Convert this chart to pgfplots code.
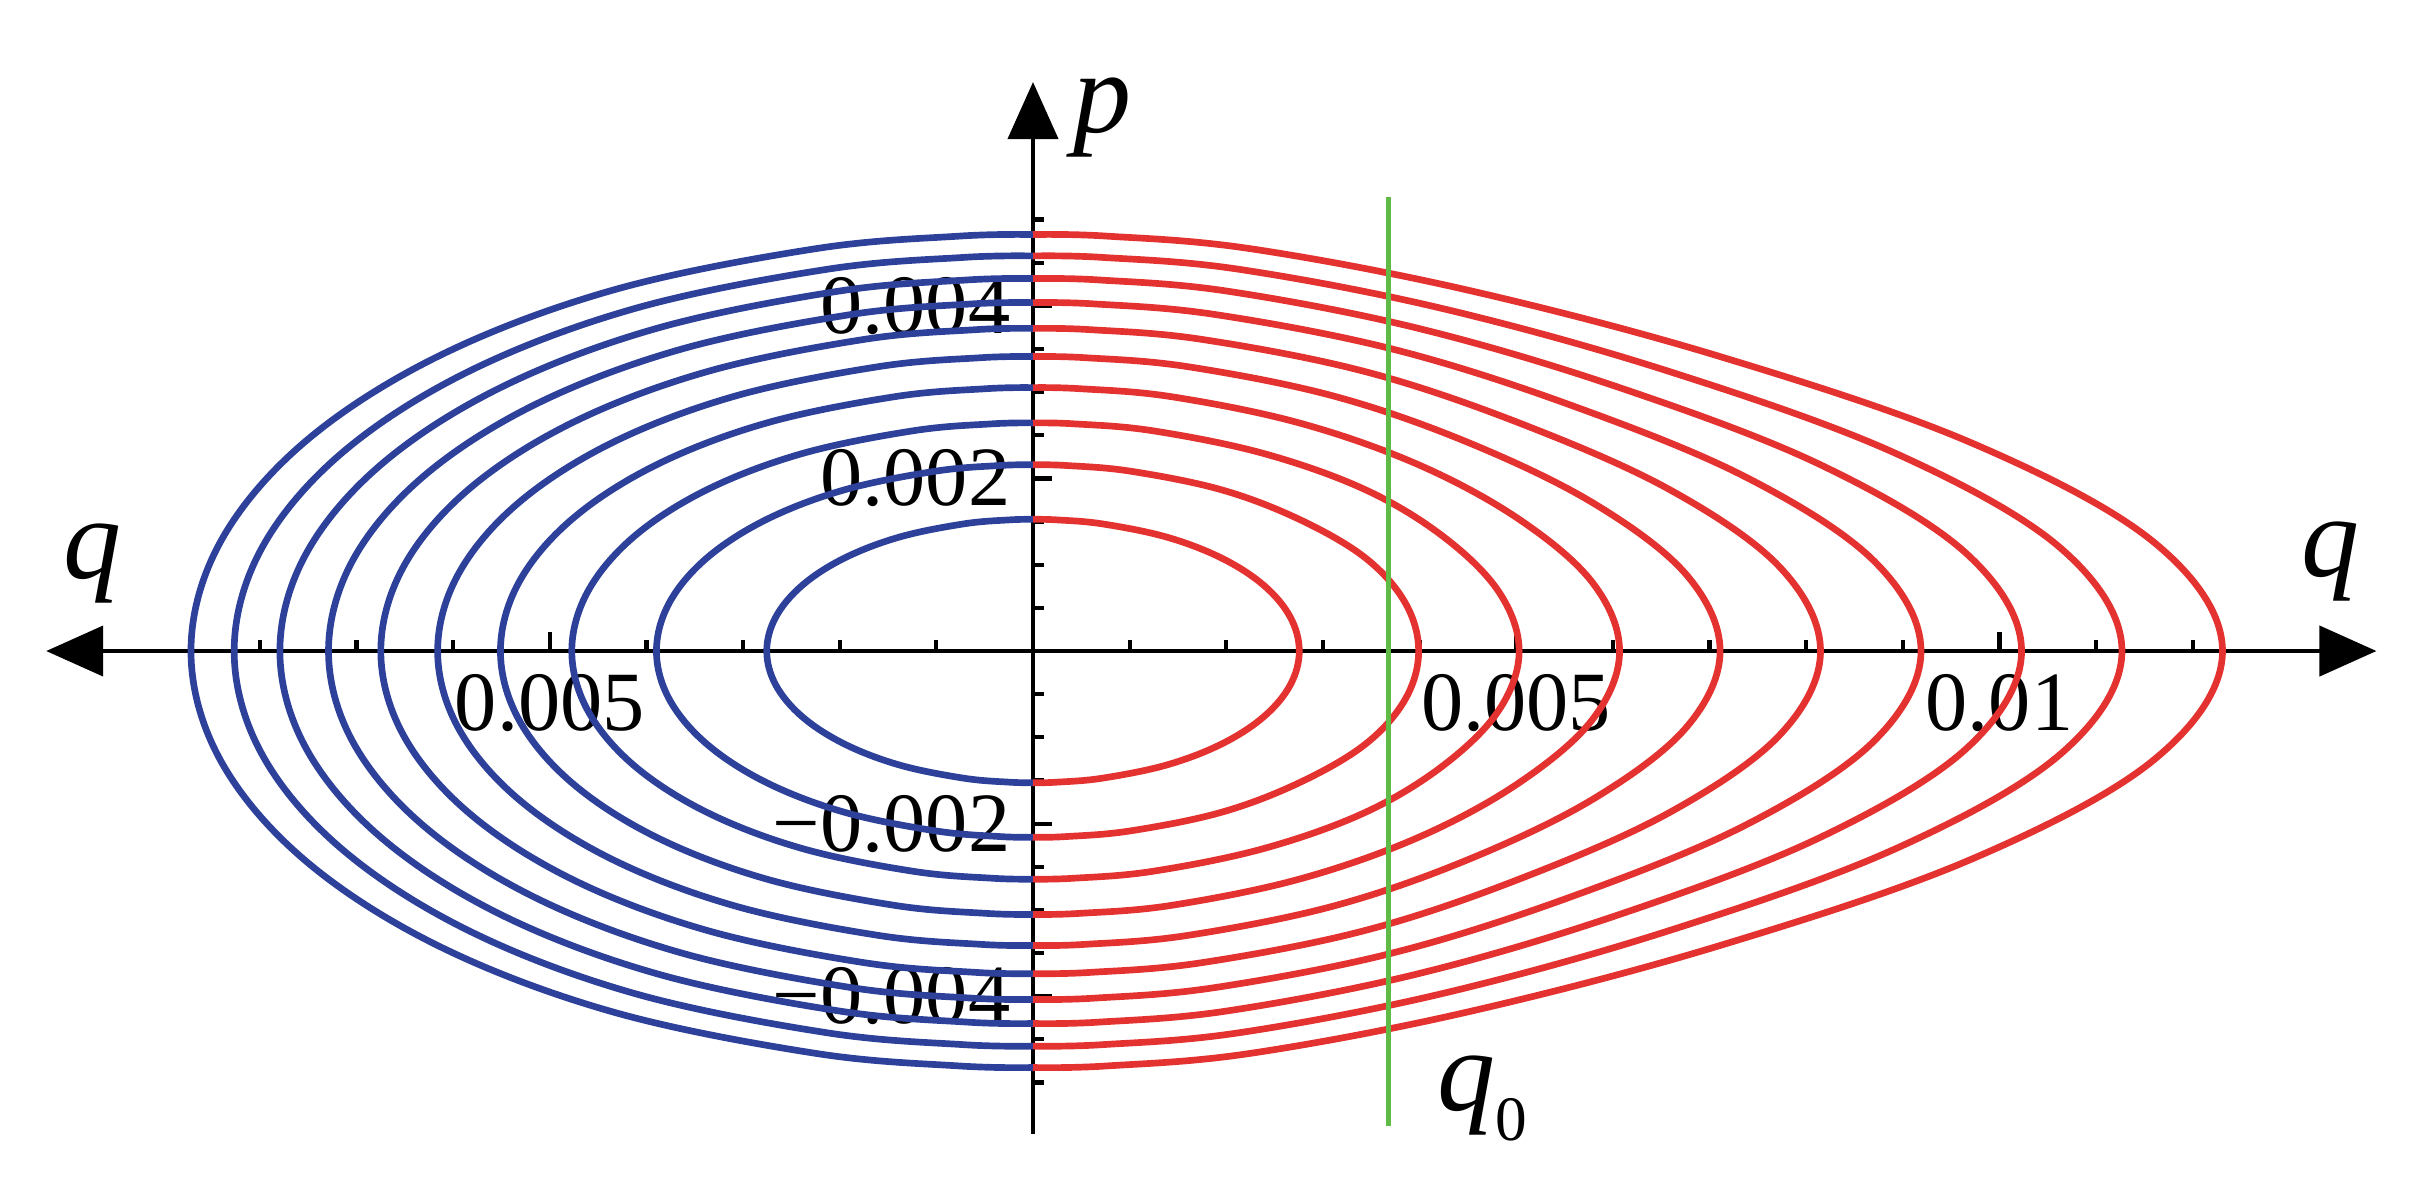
\documentclass[border=0pt]{standalone}
\usepackage{fontspec}
\setmainfont{Liberation Serif}
\usepackage{pgfplots}
\pgfplotsset{compat=1.18}
\usetikzlibrary{arrows.meta}
\definecolor{orbBlue}{RGB}{45,65,155}
\definecolor{orbRed}{RGB}{228,50,48}
\definecolor{qGreen}{RGB}{96,186,70}

\begin{document}
\begin{tikzpicture}
\begin{axis}[
  x=0.48325cm, y=0.4315cm,
  axis lines=middle,
  xmin=-10.21, xmax=13.90, ymin=-5.597, ymax=6.593,
  enlargelimits=false, clip=false,
  axis line style={line width=0.6pt},
  x axis line style={{Triangle[length=0.285cm,width=0.25cm]}-{Triangle[length=0.285cm,width=0.25cm]}},
  y axis line style={-{Triangle[length=0.285cm,width=0.25cm]}},
  xtick={-5,5,10}, xticklabels={0.005,0.005,0.01},
  minor xtick={-8,-7,-6,-4,-3,-2,-1,1,2,3,4,6,7,8,9,11,12},
  ytick={-4,-2,2,4}, yticklabels={−0.004,−0.002,0.002,0.004},
  minor ytick={-5,-4.5,-3.5,-3,-2.5,-1.5,-1,-0.5,0.5,1,1.5,2.5,3,3.5,4.5,5},
  tick align=inside,
  major tick length=0.095cm, minor tick length=0.055cm,
  tick style={black, line width=0.6pt},
  xticklabel style={anchor=north, inner sep=0pt, yshift=-0.11cm},
  yticklabel style={anchor=east, inner sep=0pt, xshift=-0.107cm},
  ticklabel style={font=\fontsize{12}{14}\selectfont},
]
% q < 0 halves (blue), q and p in units of 1e-3
\addplot[smooth, tension=0.6, orbBlue, line width=0.95pt] coordinates {(0,1.526) (-0.240,1.520) (-0.713,1.474) (-1.378,1.322) (-1.948,1.079) (-2.386,0.763) (-2.661,0.395) (-2.755,0) (-2.661,-0.395) (-2.386,-0.763) (-1.948,-1.079) (-1.378,-1.322) (-0.713,-1.474) (-0.240,-1.520) (0,-1.526)};
\addplot[smooth, tension=0.6, orbBlue, line width=0.95pt] coordinates {(0,2.158) (-0.340,2.150) (-1.008,2.084) (-1.948,1.869) (-2.755,1.526) (-3.374,1.079) (-3.763,0.559) (-3.896,0) (-3.763,-0.559) (-3.374,-1.079) (-2.755,-1.526) (-1.948,-1.869) (-1.008,-2.084) (-0.340,-2.150) (0,-2.158)};
\addplot[smooth, tension=0.6, orbBlue, line width=0.95pt] coordinates {(0,2.643) (-0.416,2.633) (-1.235,2.553) (-2.386,2.289) (-3.374,1.869) (-4.133,1.322) (-4.609,0.684) (-4.772,0) (-4.609,-0.684) (-4.133,-1.322) (-3.374,-1.869) (-2.386,-2.289) (-1.235,-2.553) (-0.416,-2.633) (0,-2.643)};
\addplot[smooth, tension=0.6, orbBlue, line width=0.95pt] coordinates {(0,3.052) (-0.480,3.040) (-1.426,2.948) (-2.755,2.643) (-3.896,2.158) (-4.772,1.526) (-5.322,0.790) (-5.510,0) (-5.322,-0.790) (-4.772,-1.526) (-3.896,-2.158) (-2.755,-2.643) (-1.426,-2.948) (-0.480,-3.040) (0,-3.052)};
\addplot[smooth, tension=0.6, orbBlue, line width=0.95pt] coordinates {(0,3.412) (-0.537,3.399) (-1.594,3.296) (-3.080,2.955) (-4.356,2.413) (-5.335,1.706) (-5.950,0.883) (-6.160,0) (-5.950,-0.883) (-5.335,-1.706) (-4.356,-2.413) (-3.080,-2.955) (-1.594,-3.296) (-0.537,-3.399) (0,-3.412)};
\addplot[smooth, tension=0.6, orbBlue, line width=0.95pt] coordinates {(0,3.738) (-0.588,3.724) (-1.747,3.611) (-3.374,3.237) (-4.772,2.643) (-5.844,1.869) (-6.518,0.967) (-6.748,0) (-6.518,-0.967) (-5.844,-1.869) (-4.772,-2.643) (-3.374,-3.237) (-1.747,-3.611) (-0.588,-3.724) (0,-3.738)};
\addplot[smooth, tension=0.6, orbBlue, line width=0.95pt] coordinates {(0,4.037) (-0.635,4.022) (-1.886,3.899) (-3.645,3.496) (-5.154,2.855) (-6.312,2.019) (-7.041,1.045) (-7.289,0) (-7.041,-1.045) (-6.312,-2.019) (-5.154,-2.855) (-3.645,-3.496) (-1.886,-3.899) (-0.635,-4.022) (0,-4.037)};
\addplot[smooth, tension=0.6, orbBlue, line width=0.95pt] coordinates {(0,4.316) (-0.679,4.300) (-2.017,4.169) (-3.896,3.738) (-5.510,3.052) (-6.748,2.158) (-7.526,1.117) (-7.792,0) (-7.526,-1.117) (-6.748,-2.158) (-5.510,-3.052) (-3.896,-3.738) (-2.017,-4.169) (-0.679,-4.300) (0,-4.316)};
\addplot[smooth, tension=0.6, orbBlue, line width=0.95pt] coordinates {(0,4.578) (-0.720,4.561) (-2.139,4.422) (-4.133,3.965) (-5.844,3.237) (-7.157,2.289) (-7.983,1.185) (-8.265,0) (-7.983,-1.185) (-7.157,-2.289) (-5.844,-3.237) (-4.133,-3.965) (-2.139,-4.422) (-0.720,-4.561) (0,-4.578)};
\addplot[smooth, tension=0.6, orbBlue, line width=0.95pt] coordinates {(0,4.826) (-0.759,4.808) (-2.255,4.661) (-4.356,4.179) (-6.160,3.412) (-7.545,2.413) (-8.415,1.249) (-8.712,0) (-8.415,-1.249) (-7.545,-2.413) (-6.160,-3.412) (-4.356,-4.179) (-2.255,-4.661) (-0.759,-4.808) (0,-4.826)};
% q > 0 halves (red)
\addplot[smooth, tension=0.6, orbRed, line width=0.95pt] coordinates {(0,1.526) (0.240,1.520) (0.713,1.474) (1.378,1.322) (1.948,1.079) (2.386,0.763) (2.661,0.395) (2.755,0) (2.661,-0.395) (2.386,-0.763) (1.948,-1.079) (1.378,-1.322) (0.713,-1.474) (0.240,-1.520) (0,-1.526)};
\addplot[smooth, tension=0.6, orbRed, line width=0.95pt] coordinates {(0,2.158) (0.340,2.150) (1.008,2.084) (1.948,1.869) (2.755,1.526) (3.439,1.079) (3.851,0.559) (3.990,0) (3.851,-0.559) (3.439,-1.079) (2.755,-1.526) (1.948,-1.869) (1.008,-2.084) (0.340,-2.150) (0,-2.158)};
\addplot[smooth, tension=0.6, orbRed, line width=0.95pt] coordinates {(0,2.643) (0.416,2.633) (1.235,2.553) (2.386,2.289) (3.439,1.869) (4.250,1.322) (4.821,0.684) (5.030,0) (4.821,-0.684) (4.250,-1.322) (3.439,-1.869) (2.386,-2.289) (1.235,-2.553) (0.416,-2.633) (0,-2.643)};
\addplot[smooth, tension=0.6, orbRed, line width=0.95pt] coordinates {(0,3.052) (0.480,3.040) (1.426,2.948) (2.755,2.643) (3.990,2.158) (5.030,1.526) (5.791,0.790) (6.069,0) (5.791,-0.790) (5.030,-1.526) (3.990,-2.158) (2.755,-2.643) (1.426,-2.948) (0.480,-3.040) (0,-3.052)};
\addplot[smooth, tension=0.6, orbRed, line width=0.95pt] coordinates {(0,3.412) (0.537,3.399) (1.594,3.296) (3.109,2.955) (4.510,2.413) (5.809,1.706) (6.761,0.883) (7.109,0) (6.761,-0.883) (5.809,-1.706) (4.510,-2.413) (3.109,-2.955) (1.594,-3.296) (0.537,-3.399) (0,-3.412)};
\addplot[smooth, tension=0.6, orbRed, line width=0.95pt] coordinates {(0,3.738) (0.588,3.724) (1.747,3.611) (3.439,3.237) (5.030,2.643) (6.589,1.869) (7.731,0.967) (8.148,0) (7.731,-0.967) (6.589,-1.869) (5.030,-2.643) (3.439,-3.237) (1.747,-3.611) (0.588,-3.724) (0,-3.738)};
\addplot[smooth, tension=0.6, orbRed, line width=0.95pt] coordinates {(0,4.037) (0.635,4.022) (1.886,3.899) (3.730,3.496) (5.549,2.855) (7.369,2.019) (8.700,1.045) (9.188,0) (8.700,-1.045) (7.369,-2.019) (5.549,-2.855) (3.730,-3.496) (1.886,-3.899) (0.635,-4.022) (0,-4.037)};
\addplot[smooth, tension=0.6, orbRed, line width=0.95pt] coordinates {(0,4.316) (0.679,4.300) (2.017,4.169) (3.990,3.738) (6.069,3.052) (8.148,2.158) (9.670,1.117) (10.228,0) (9.670,-1.117) (8.148,-2.158) (6.069,-3.052) (3.990,-3.738) (2.017,-4.169) (0.679,-4.300) (0,-4.316)};
\addplot[smooth, tension=0.6, orbRed, line width=0.95pt] coordinates {(0,4.578) (0.720,4.561) (2.139,4.422) (4.250,3.965) (6.589,3.237) (8.928,2.289) (10.640,1.185) (11.267,0) (10.640,-1.185) (8.928,-2.289) (6.589,-3.237) (4.250,-3.965) (2.139,-4.422) (0.720,-4.561) (0,-4.578)};
\addplot[smooth, tension=0.6, orbRed, line width=0.95pt] coordinates {(0,4.826) (0.759,4.808) (2.255,4.661) (4.510,4.179) (7.109,3.412) (9.708,2.413) (11.610,1.249) (12.307,0) (11.610,-1.249) (9.708,-2.413) (7.109,-3.412) (4.510,-4.179) (2.255,-4.661) (0.759,-4.808) (0,-4.826)};
% q0 marker
\addplot[qGreen, line width=0.7pt] coordinates {(3.676,-5.504) (3.676,5.264)};

\node[anchor=base, inner sep=0pt, font=\fontsize{16.5}{18}\selectfont\itshape] at (axis cs:-9.726,0.84) {q};
\node[anchor=base, inner sep=0pt, font=\fontsize{16.5}{18}\selectfont\itshape] at (axis cs:13.42,0.86) {q};
\node[anchor=base, inner sep=0pt, font=\fontsize{16.5}{18}\selectfont\itshape] at (axis cs:0.724,6.014) {p};
\node[anchor=base west, inner sep=0pt, font=\fontsize{16.5}{18}\selectfont] at (axis cs:4.17,-5.319) {\textit{q}\raisebox{-0.15cm}{\fontsize{9}{9}\selectfont 0}};

\coordinate (bbTL) at (axis cs:-10.688,7.5435);
\coordinate (bbBR) at (axis cs:14.423,-6.0834);
\end{axis}
\pgfresetboundingbox
\useasboundingbox (bbTL) rectangle (bbBR);
\end{tikzpicture}
\end{document}
